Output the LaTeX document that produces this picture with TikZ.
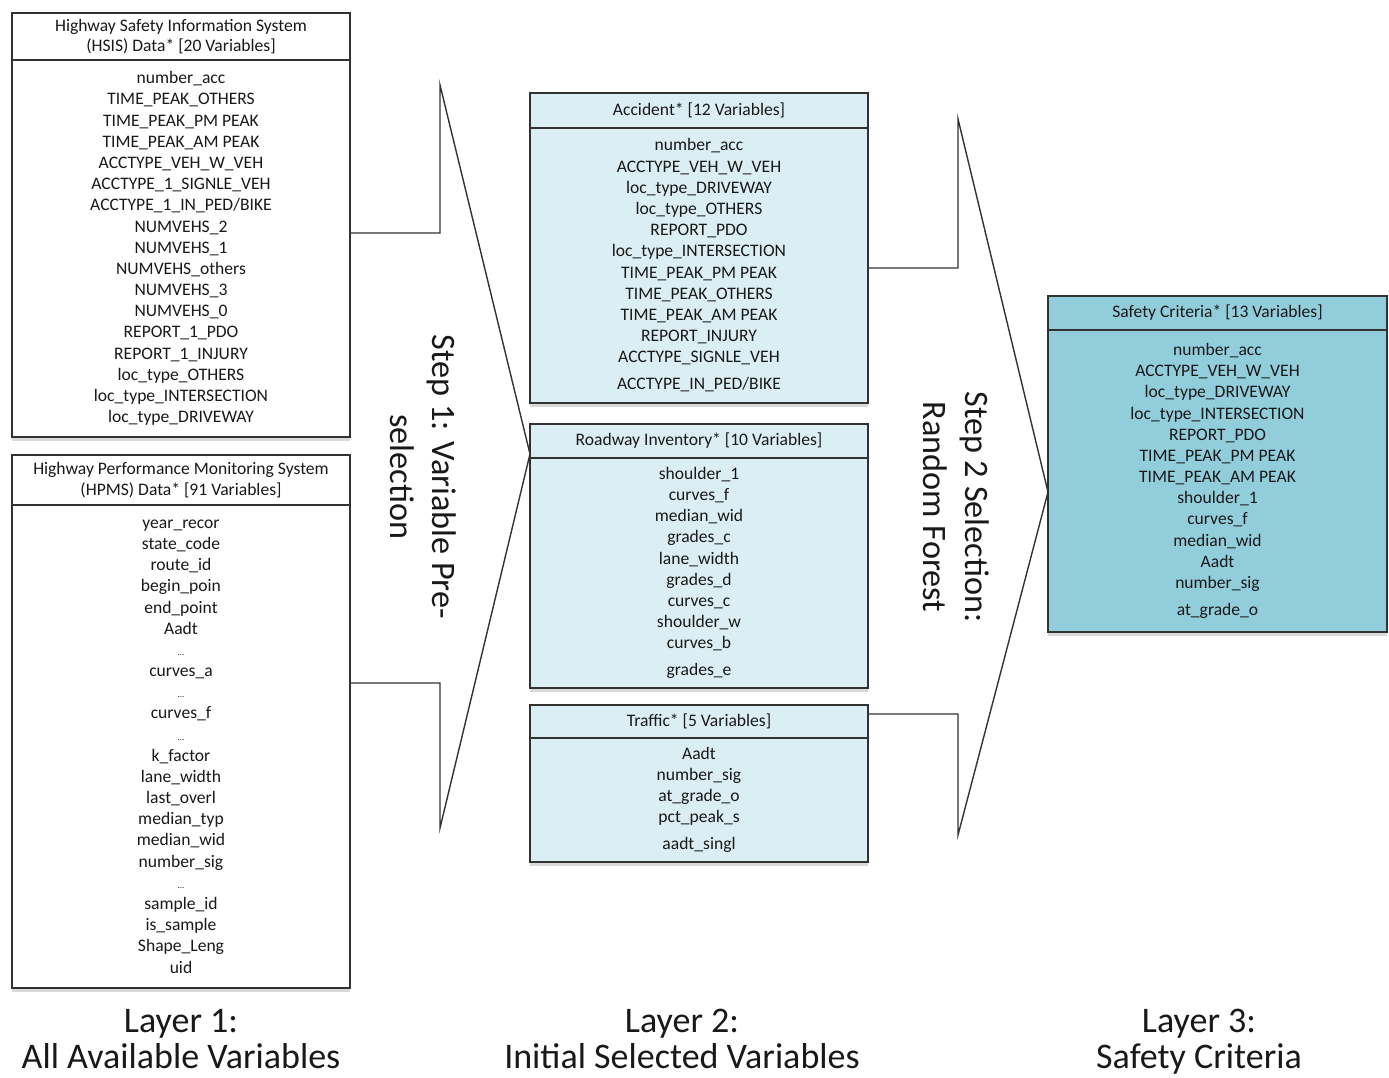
\documentclass[tikz,border=0pt]{standalone}
\usepackage{fontspec}
\setmainfont{Carlito}
\usetikzlibrary{shadows}
\definecolor{paleblue}{RGB}{218,238,243}
\definecolor{midblue}{RGB}{146,205,220}
\definecolor{edge}{RGB}{50,50,50}
\tikzset{
	head/.style={draw=edge, line width=1.1pt, fill=#1, anchor=north west, minimum width=338*0.02cm, inner sep=0pt, outer sep=0pt, align=center, text=black!90, font=\fontsize{10}{11.8}\selectfont},
	body/.style={head=#1, font=\fontsize{10}{12.05}\selectfont, drop shadow={opacity=0.3, shadow xshift=0pt, shadow yshift=-2pt}},
	link/.style={draw=black!80, line width=0.8pt},
	steptext/.style={rotate=-90, align=center, text=black!90, font=\fontsize{19.5}{24}\selectfont},
	layertext/.style={anchor=north, inner sep=0pt, align=center, text=black!90, font=\fontsize{20.5}{20.5}\selectfont},
}
\begin{document}
\begin{tikzpicture}[x=0.02cm,y=-0.02cm]
	\useasboundingbox (0,0) rectangle (1389,1078);
	% layer 1
	\node[head=white, minimum height=47*0.02cm] (hsis head) at (12,13) {Highway Safety Information System\\(HSIS) Data* [20 Variables]};
	\node[body=white, minimum height=377*0.02cm] (hsis) at (hsis head.south west) {number\_acc\\TIME\_PEAK\_OTHERS\\TIME\_PEAK\_PM PEAK\\TIME\_PEAK\_AM PEAK\\ACCTYPE\_VEH\_W\_VEH\\ACCTYPE\_1\_SIGNLE\_VEH\\ACCTYPE\_1\_IN\_PED/BIKE\\NUMVEHS\_2\\NUMVEHS\_1\\NUMVEHS\_others\\NUMVEHS\_3\\NUMVEHS\_0\\REPORT\_1\_PDO\\REPORT\_1\_INJURY\\loc\_type\_OTHERS\\loc\_type\_INTERSECTION\\loc\_type\_DRIVEWAY};
	\node[head=white, minimum height=50*0.02cm] (hpms head) at (12,455) {Highway Performance Monitoring System\\(HPMS) Data* [91 Variables]};
	\node[body=white, minimum height=483*0.02cm] (hpms) at (hpms head.south west) {year\_recor\\state\_code\\route\_id\\begin\_poin\\end\_point\\Aadt\\{\tiny...}\\curves\_a\\{\tiny...}\\curves\_f\\{\tiny...}\\k\_factor\\lane\_width\\last\_overl\\median\_typ\\median\_wid\\number\_sig\\{\tiny...}\\sample\_id\\is\_sample\\Shape\_Leng\\uid};
	% layer 2
	\node[head=paleblue, minimum height=35*0.02cm] (acc head) at (530,93) {Accident* [12 Variables]};
	\node[body=paleblue, minimum height=275*0.02cm] (acc) at (acc head.south west) {number\_acc\\ACCTYPE\_VEH\_W\_VEH\\loc\_type\_DRIVEWAY\\loc\_type\_OTHERS\\REPORT\_PDO\\loc\_type\_INTERSECTION\\TIME\_PEAK\_PM PEAK\\TIME\_PEAK\_OTHERS\\TIME\_PEAK\_AM PEAK\\REPORT\_INJURY\\ACCTYPE\_SIGNLE\_VEH\\[3.4pt]ACCTYPE\_IN\_PED/BIKE};
	\node[head=paleblue, minimum height=34*0.02cm] (road head) at (530,424) {Roadway Inventory* [10 Variables]};
	\node[body=paleblue, minimum height=230*0.02cm] (road) at (road head.south west) {shoulder\_1\\curves\_f\\median\_wid\\grades\_c\\lane\_width\\grades\_d\\curves\_c\\shoulder\_w\\curves\_b\\[3.4pt]grades\_e};
	\node[head=paleblue, minimum height=33*0.02cm] (traffic head) at (530,705) {Traffic* [5 Variables]};
	\node[body=paleblue, minimum height=124*0.02cm] (traffic) at (traffic head.south west) {Aadt\\number\_sig\\at\_grade\_o\\pct\_peak\_s\\[3.4pt]aadt\_singl};
	% layer 3
	\node[head=midblue, minimum width=339*0.02cm, minimum height=34*0.02cm] (safety head) at (1048,296) {Safety Criteria* [13 Variables]};
	\node[body=midblue, minimum width=339*0.02cm, minimum height=302*0.02cm] (safety) at (safety head.south west) {number\_acc\\ACCTYPE\_VEH\_W\_VEH\\loc\_type\_DRIVEWAY\\loc\_type\_INTERSECTION\\REPORT\_PDO\\TIME\_PEAK\_PM PEAK\\TIME\_PEAK\_AM PEAK\\shoulder\_1\\curves\_f\\median\_wid\\Aadt\\number\_sig\\[3.4pt]at\_grade\_o};
	% step 1 bracket
	\coordinate (s1in) at (440,233);
	\coordinate (s1top) at (440,85);
	\coordinate (tip1) at (530,454);
	\coordinate (s1bot) at (440,828);
	\coordinate (s1out) at (440,683);
	\draw[link] (hsis.east |- s1in) -- (s1in) -- (s1top) -- (tip1) -- (s1bot) -- (s1out) -- (hpms.east |- s1out);
	% step 2 bracket
	\coordinate (s2in) at (958,268);
	\coordinate (s2top) at (958,119);
	\coordinate (tip2) at (1048,492);
	\coordinate (s2bot) at (958,835);
	\coordinate (s2out) at (958,714);
	\draw[link] (acc.east |- s2in) -- (s2in) -- (s2top) -- (tip2) -- (s2bot) -- (s2out) -- (traffic.east |- s2out);
	\node[steptext] (step1) at (423,477) {Step 1: Variable Pre-\\selection};
	\node[steptext] (step2) at (956,507) {Step 2 Selection:\\Random Forest};
	% layer labels
	\node[layertext] (layer1) at (181,1009) {Layer 1:\\All Available Variables};
	\node[layertext] (layer2) at (682,1009) {Layer 2:\\Initial Selected Variables};
	\node[layertext] (layer3) at (1199,1009) {Layer 3:\\Safety Criteria};
\end{tikzpicture}
\end{document}
